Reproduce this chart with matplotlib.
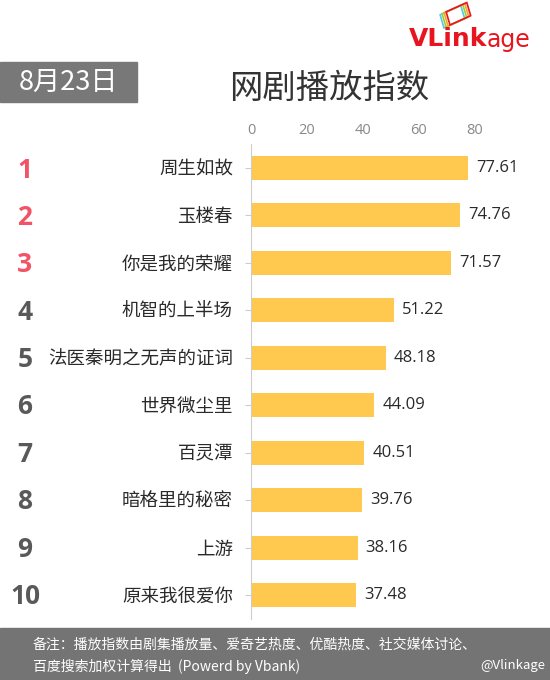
import matplotlib.pyplot as plt
import matplotlib.patches as patches

plt.rcParams['font.family'] = ['Noto Sans CJK SC', 'DejaVu Sans']

# data
names = ['周生如故', '玉楼春', '你是我的荣耀', '机智的上半场', '法医秦明之无声的证词',
         '世界微尘里', '百灵潭', '暗格里的秘密', '上游', '原来我很爱你']
values = [77.61, 74.76, 71.57, 51.22, 48.18, 44.09, 40.51, 39.76, 38.16, 37.48]
ranks = ['1', '2', '3', '4', '5', '6', '7', '8', '9', '10']
xticks = [0, 20, 40, 60, 80]

W, H = 550, 680
fig = plt.figure(figsize=(5.5, 6.8), dpi=100)

ax = fig.add_axes([251/W, 1-619/H, 280/W, 475/H])
ypos = list(range(len(names)))
ax.barh(ypos, values, height=0.5, color='#ffc94f')
ax.set_xlim(0, 100)
ax.set_ylim(len(names)-0.5, -0.5)
ax.set_xticks(xticks)
ax.xaxis.tick_top()
ax.tick_params(axis='x', length=0, labelsize=10.5, labelcolor='#888888', pad=4)
for lab in ax.get_xticklabels():
    lab.set_family(['Open Sans'])
ax.set_yticks(ypos)
ax.set_yticklabels(names, fontsize=13.3, color='#2a2a2a')
ax.tick_params(axis='y', length=4, color='#cccccc', pad=9)
for s in ['top', 'right', 'bottom']:
    ax.spines[s].set_visible(False)
ax.spines['left'].set_color('#cccccc')

for y, v in zip(ypos, values):
    ax.text(v + 2.8, y, '%.2f' % v, va='center', ha='left', fontsize=12,
            color='#2a2a2a', family=['Open Sans'])

# rank numbers
for i, r in enumerate(ranks):
    yy = 1 - (170 + i*47.4)/H
    c = '#f25467' if i < 3 else '#595959'
    fig.text(25/W, yy, r, ha='center', va='center', fontsize=19, fontweight='bold',
             color=c, family=['Open Sans'])

# date box
fig.patches.append(patches.Rectangle((0, 1-102/H), 137/W, 40/H, transform=fig.transFigure,
                                     color='#787878', zorder=0))
fig.text(68/W, 1-82/H, '8月23日', ha='center', va='center', fontsize=19.5, color='white')

# title
fig.text(329/W, 1-88/H, '网剧播放指数', ha='center', va='center', fontsize=24, color='#333333')

# logo
fig.text(409/W, 1-39/H, 'VLink', ha='left', va='center', fontsize=18, fontweight='bold',
         color='#e8141e', family=['DejaVu Sans'])
fig.text(487/W, 1-40/H, 'age', ha='left', va='center', fontsize=17,
         color='#e8141e', family=['DejaVu Sans'])
for k, col in enumerate(['#55c8e6', '#9ccc3c', '#f5a623', '#e8141e']):
    fig.patches.append(patches.Rectangle(((444+k*2)/W, 1-(28-k)/H), 22/W, 14/H, angle=20,
                                         transform=fig.transFigure, fill=False,
                                         edgecolor=col, lw=1.2))

# footer
fig.patches.append(patches.Rectangle((0, 0), 1, 52/H, transform=fig.transFigure,
                                     color='#747474', zorder=0))
fig.text(33/W, 1-645/H, '备注：播放指数由剧集播放量、爱奇艺热度、优酷热度、社交媒体讨论、',
         ha='left', va='center', fontsize=10, color='white')
fig.text(33/W, 1-666/H, '百度搜索加权计算得出  (Powerd by Vbank)',
         ha='left', va='center', fontsize=10, color='white')
fig.text(545/W, 1-666/H, '@Vlinkage', ha='right', va='center', fontsize=9.5, color='white')

fig.savefig('out.png', dpi=100)
